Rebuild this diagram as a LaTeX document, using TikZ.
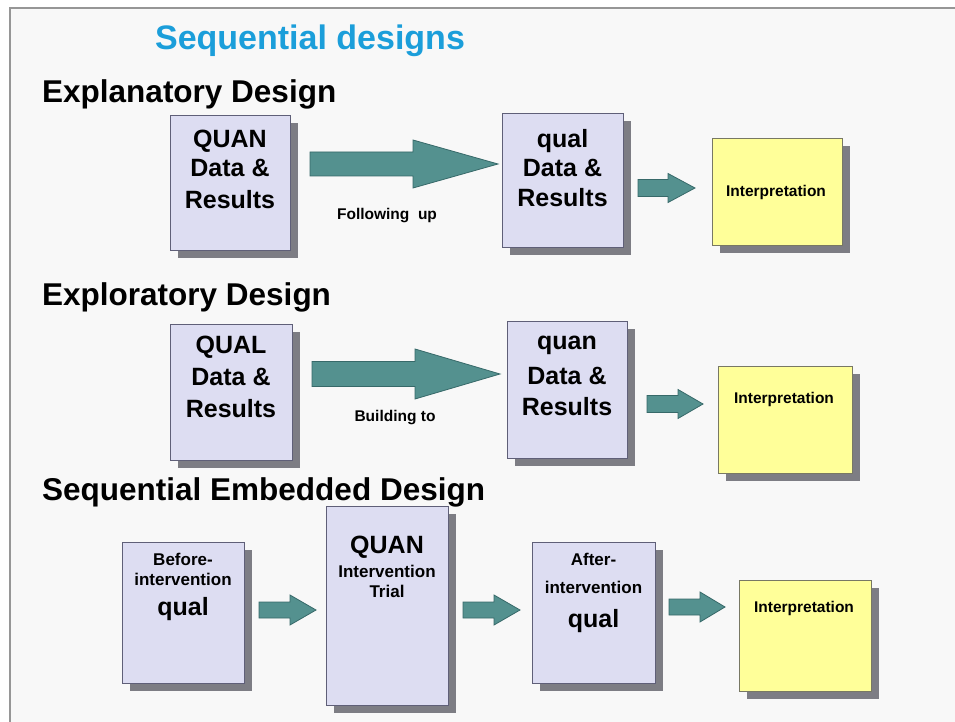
\documentclass[tikz,border=0pt]{standalone}
\usepackage{fontspec}
\setmainfont{Liberation Sans}
\usetikzlibrary{shadows}
\definecolor{boxfill}{RGB}{221,221,242}
\definecolor{boxline}{RGB}{95,95,120}
\definecolor{shade}{RGB}{125,125,132}
\definecolor{yel}{RGB}{255,255,153}
\definecolor{yelline}{RGB}{120,120,100}
\definecolor{arrfill}{RGB}{84,145,143}
\definecolor{arrline}{RGB}{55,105,105}
\definecolor{titleblue}{RGB}{27,158,218}
\definecolor{bgc}{RGB}{248,248,248}
\definecolor{framec}{RGB}{150,150,150}
% block arrow: name, x1, x2, y, shaft half, head half, head length
\newcommand{\blockarr}[7]{%
  \draw[arrst] (#2,#4-#5) -- (#3-#7,#4-#5) -- (#3-#7,#4-#6) -- (#3,#4)
    -- (#3-#7,#4+#6) -- (#3-#7,#4+#5) -- (#2,#4+#5) -- cycle;
  \coordinate (#1) at (#3,#4);}
\begin{document}
\begin{tikzpicture}[x=1pt,y=-1pt,
  qbox/.style={draw=boxline, line width=0.9pt, fill=boxfill, inner sep=0pt,
    drop shadow={shadow xshift=8pt, shadow yshift=-8pt, fill=shade, opacity=1}},
  ibox/.style={qbox, draw=yelline, fill=yel},
  arrst/.style={draw=arrline, line width=0.8pt, fill=arrfill, line join=miter},
  bigt/.style={anchor=base, inner sep=0pt, font=\fontsize{25}{30}\selectfont\bfseries},
  midt/.style={anchor=base, inner sep=0pt, font=\fontsize{17}{20}\selectfont\bfseries},
  smallt/.style={anchor=center, inner sep=0pt, font=\fontsize{15.5}{18}\selectfont\bfseries},
  headt/.style={anchor=base west, inner sep=0pt, font=\fontsize{31.5}{36}\selectfont\bfseries},
  titlet/.style={anchor=base, inner sep=0pt, text=titleblue, font=\fontsize{34}{40}\selectfont\bfseries}]
\useasboundingbox (0,0) rectangle (955,722);
\fill[white] (0,0) rectangle (955,722);
\fill[bgc] (10,8) rectangle (955,722);
\draw[framec, line width=1.2pt] (10,722) -- (10,8) -- (955,8);

\node[titlet] (title) at (310,50) {Sequential designs};

% Row 1
\node[headt] (h1) at (42,103) {Explanatory Design};
\node[qbox, minimum width=120pt, minimum height=135pt] (q1) at (230,182.5) {};
\node[bigt] (q1a) at (230,148) {QUAN};
\node[bigt] (q1b) at (230,177) {Data \&};
\node[bigt] (q1c) at (230,208) {Results};
\blockarr{a1}{310}{498}{164}{12}{24}{85}
\node[smallt] (l1) at (387,216) {Following\ \ up};
\node[qbox, minimum width=121pt, minimum height=134pt] (q2) at (562.5,180) {};
\node[bigt] (q2a) at (562.5,148) {qual};
\node[bigt] (q2b) at (562.5,177) {Data \&};
\node[bigt] (q2c) at (562.5,207) {Results};
\blockarr{a2}{638}{695}{188}{8.5}{14.5}{27}
\node[ibox, minimum width=130pt, minimum height=107pt] (i1) at (777,191.5) {};
\node[smallt] (i1t) at (776,192) {Interpretation};

% Row 2
\node[headt] (h2) at (42,305) {Exploratory Design};
\node[qbox, minimum width=122pt, minimum height=136pt] (q3) at (231,392) {};
\node[bigt] (q3a) at (231,353) {QUAL};
\node[bigt] (q3b) at (231,385) {Data \&};
\node[bigt] (q3c) at (231,417) {Results};
\blockarr{a3}{312}{500}{374}{12.5}{25}{85}
\node[smallt] (l2) at (395,418) {Building\ to};
\node[qbox, minimum width=120pt, minimum height=137pt] (q4) at (567,389.5) {};
\node[bigt] (q4a) at (567,349) {quan};
\node[bigt] (q4b) at (567,384) {Data \&};
\node[bigt] (q4c) at (567,415) {Results};
\blockarr{a4}{647}{703}{404}{8.5}{14.5}{25}
\node[ibox, minimum width=134pt, minimum height=107pt] (i2) at (785,419.5) {};
\node[smallt] (i2t) at (784,399) {Interpretation};

% Row 3
\node[headt] (h3) at (42,500) {Sequential Embedded Design};
\node[qbox, minimum width=122pt, minimum height=141pt] (b1) at (183,612.5) {};
\node[midt] (b1a) at (183,565) {Before-};
\node[midt] (b1b) at (183,585) {intervention};
\node[bigt] (b1c) at (183,615) {qual};
\blockarr{a5}{259}{316}{610}{8}{15}{26}
\node[qbox, minimum width=122pt, minimum height=199pt] (b2) at (387,605.5) {};
\node[bigt] (b2a) at (387,553) {QUAN};
\node[midt] (b2b) at (387,577) {Intervention};
\node[midt] (b2c) at (387,597) {Trial};
\blockarr{a6}{463}{520}{610}{8}{15}{26}
\node[qbox, minimum width=123pt, minimum height=141pt] (b3) at (593.5,612.5) {};
\node[midt] (b3a) at (593.5,565) {After-};
\node[midt] (b3b) at (593.5,593) {intervention};
\node[bigt] (b3c) at (593.5,627) {qual};
\blockarr{a7}{669}{725}{607}{8}{15}{25}
\node[ibox, minimum width=132pt, minimum height=111pt] (i3) at (805,635.5) {};
\node[smallt] (i3t) at (804,608) {Interpretation};
\end{tikzpicture}
\end{document}
